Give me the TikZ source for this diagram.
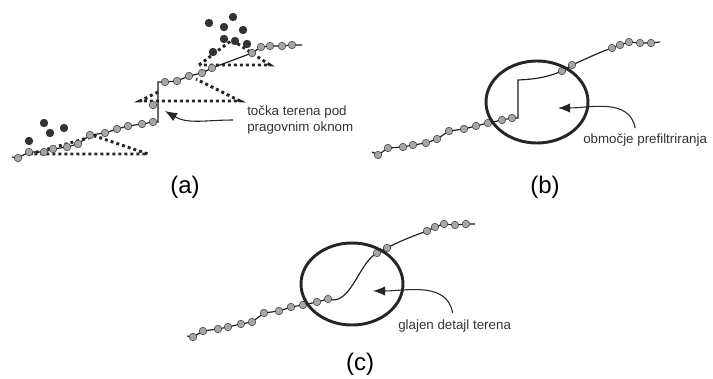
\documentclass[tikz,border=0pt]{standalone}
\usepackage{fontspec}
\setmainfont{Liberation Sans}
\usetikzlibrary{arrows.meta}

\begin{document}
\begin{tikzpicture}[x=0.75pt,y=-0.75pt,
    ground/.style={draw=black!90,line width=0.85pt},
    shot/.style={fill=black!35,draw=black!75,line width=0.4pt},
    vegpt/.style={fill=black!80},
    window/.style={line width=2.2pt,dash pattern=on 2.2pt off 2.3pt,black!85},
    ring/.style={line width=2.2pt,black!85},
    note/.style={font=\fontsize{10}{12}\selectfont,text=black!80,inner sep=0pt,align=left},
    caption/.style={font=\fontsize{18}{20}\selectfont,inner sep=0pt},
    pointer/.style={-{Latex[length=9pt,width=7pt]},line width=0.8pt,black!85}]
\useasboundingbox (0,0) rectangle (713,378);

% (a) threshold windows under the ground line
\draw[window] (30,154) -- (95,136) -- (148,154) -- cycle;
\draw[window] (158,92) -- (140,101) -- (240,101) -- (196,79); % left side hidden by the step
\draw[window] (199,65) -- (232,40) -- (270,65) -- cycle;
\foreach \p in {(44,123),(50,133),(64,128),(29,141),
    (233,17),(209,23),(224,27),(243,30),(224,39),(235,41),(247,44),(213,52)}
    \fill[vegpt] \p circle (4.2); % off-ground points
\draw[ground] plot coordinates {(12,157) (18,158) (29,152) (44,152) (53,149) (67,147)
    (78,144) (90,135) (105,133) (117,129) (128,126) (142,124) (153,122) (158,122)
    (158,82) (165,82) (177,81) (189,76) (202,73) (212,68) (252,53) (261,47) (270,46)
    (282,46) (292,45) (302,45)};
\foreach \p in {(18,158),(29,152),(44,152),(53,149),(67,147),(78,144),(90,135),(105,133),
    (117,129),(128,126),(142,124),(153,122),(153,105),(165,82),(177,81),(189,76),(202,73),
    (212,68),(252,53),(261,47),(270,46),(282,46),(292,45)}
    \draw[shot] \p circle (3.8);
\node[note,anchor=west] (noteA) at (247,120) {točka terena pod\\pragovnim oknom};
\coordinate (tipA) at (165,111);
\draw[pointer] ([xshift=-10.5pt]noteA.west) to[out=180,in=-30] (tipA);
\node[caption] (capA) at (185,187) {(a)};

% (b) step before filtering
\draw[ground] (372,152) -- (378,155) -- (388,148) -- (403,147) -- (413,145) -- (426,143)
    -- (437,139) -- (449,131) -- (464,129) -- (476,126) -- (488,123) -- (502,120)
    -- (512,118) -- (518,118) -- (518,80) .. controls (540,79) and (550,76) .. (562,71)
    -- (572,65) .. controls (590,57) and (600,52) .. (612,48) -- (620,45) -- (629,42)
    -- (640,43) -- (651,43) -- (660,42);
\foreach \p in {(378,155),(388,148),(403,147),(413,145),(426,143),(437,139),(449,131),
    (464,129),(476,126),(488,123),(502,120),(512,118),(562,71),(572,65),(612,48),
    (620,45),(629,42),(640,43),(651,43)}
    \draw[shot] \p circle (3.8);
\draw[ring] (537,102) ellipse [x radius=51,y radius=41];
\node[note,anchor=west] (noteB) at (583,140) {območje prefiltriranja};
\coordinate (tipB) at (558,108);
\draw[pointer] ([xshift=-7.5pt,yshift=4pt]noteB.north) to[out=100,in=0] (tipB);
\node[caption] (capB) at (545,187) {(b)};

% (c) smoothed ground detail
\draw[ground] (187,336) -- (193,337) -- (203,331) -- (218,329) -- (228,327) -- (241,324)
    -- (252,322) -- (264,313) -- (279,311) -- (291,307) -- (303,305) -- (317,302)
    -- (328,299) -- (333,300) .. controls (352,300) and (360,262) .. (377,253)
    -- (387,248) .. controls (400,241) and (413,236) .. (427,231) -- (435,227)
    -- (444,224) -- (455,225) -- (466,224) -- (475,224);
\foreach \p in {(193,337),(203,331),(218,329),(228,327),(241,324),(252,322),(264,313),
    (279,311),(291,307),(303,305),(317,302),(328,299),(377,253),(387,248),(427,231),
    (435,227),(444,224),(455,225),(466,224)}
    \draw[shot] \p circle (3.8);
\draw[ring] (352,284) ellipse [x radius=51,y radius=41];
\node[note,anchor=west] (noteC) at (398,326) {glajen detajl terena};
\coordinate (tipC) at (373,291);
\draw[pointer] ([xshift=-1.5pt,yshift=5pt]noteC.north) to[out=100,in=0] (tipC);
\node[caption] (capC) at (360,364) {(c)};
\end{tikzpicture}
\end{document}
